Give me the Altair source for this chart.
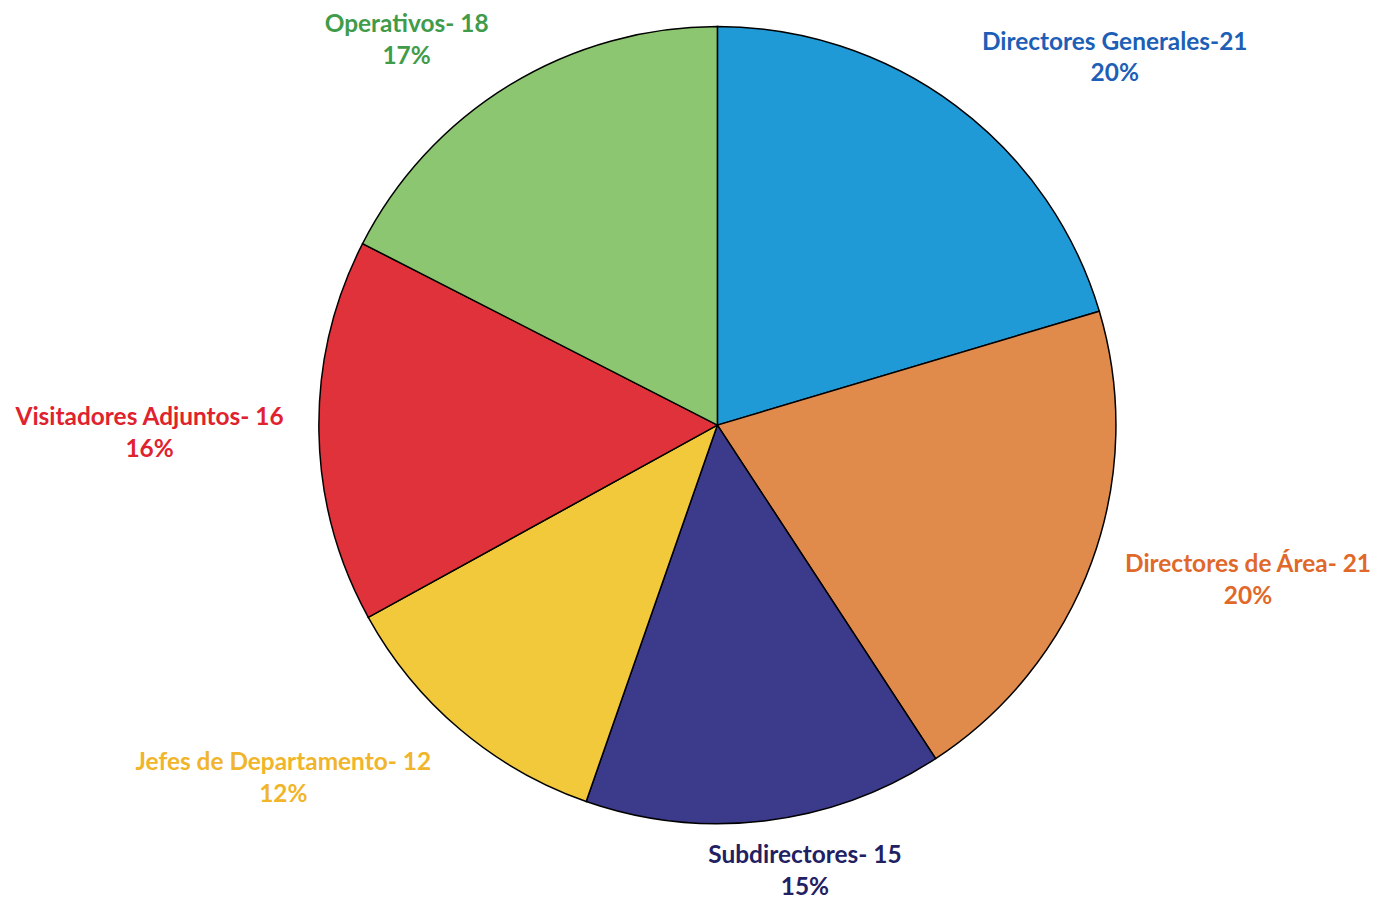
import altair as alt
import pandas as pd

categories = ["Directores Generales", "Directores de Área", "Subdirectores",
              "Jefes de Departamento", "Visitadores Adjuntos", "Operativos"]
label_heads = ["Directores Generales-21", "Directores de Área- 21", "Subdirectores- 15",
               "Jefes de Departamento- 12", "Visitadores Adjuntos- 16", "Operativos- 18"]
values = [21, 21, 15, 12, 16, 18]
percents = ["20%", "20%", "15%", "12%", "16%", "17%"]

slice_colors = ["#1f9ad6", "#e08a4c", "#3c3a8a", "#f2c93b", "#e0323a", "#8dc670"]
text_colors = ["#1d5fb6", "#e0692a", "#1f2163", "#f0b52a", "#e0222e", "#409b4a"]
# label nudges (pixels) relative to a ring around the pie
nudges = [(100, 17), (63, -31), (27, -64), (-113, -43), (-70, -15), (-51, 25)]

df = pd.DataFrame({
    "cat": categories,
    "value": values,
    "order": list(range(len(categories))),
    "label": [f"{h}\n{p}" for h, p in zip(label_heads, percents)],
})

base = alt.Chart(df)

pie = base.mark_arc(outerRadius=400, stroke="black", strokeWidth=1.5).encode(
    theta=alt.Theta("value:Q", stack=True),
    order=alt.Order("order:Q"),
    color=alt.Color("cat:N", scale=alt.Scale(domain=categories, range=slice_colors), legend=None),
)

layers = [pie]
for cat, col, (dx, dy) in zip(categories, text_colors, nudges):
    layers.append(
        base.mark_text(
            radius=500, dx=dx, dy=dy, color=col, font="Lato", fontSize=24.5,
            fontWeight="bold", lineBreak="\n", lineHeight=32,
            align="center", baseline="middle",
        ).encode(
            theta=alt.Theta("value:Q", stack=True),
            order=alt.Order("order:Q"),
            text=alt.condition(f"datum.cat == '{cat}'", "label:N", alt.value("")),
        )
    )

chart = alt.layer(*layers).properties(
    width=1300, height=830,
    padding={"left": 62, "top": 2, "right": 7, "bottom": 60},
    autosize=alt.AutoSizeParams(type="none"),
).configure_view(stroke=None).configure(background="white")

chart.save("out.html", embed_options={"renderer": "svg", "actions": False})
